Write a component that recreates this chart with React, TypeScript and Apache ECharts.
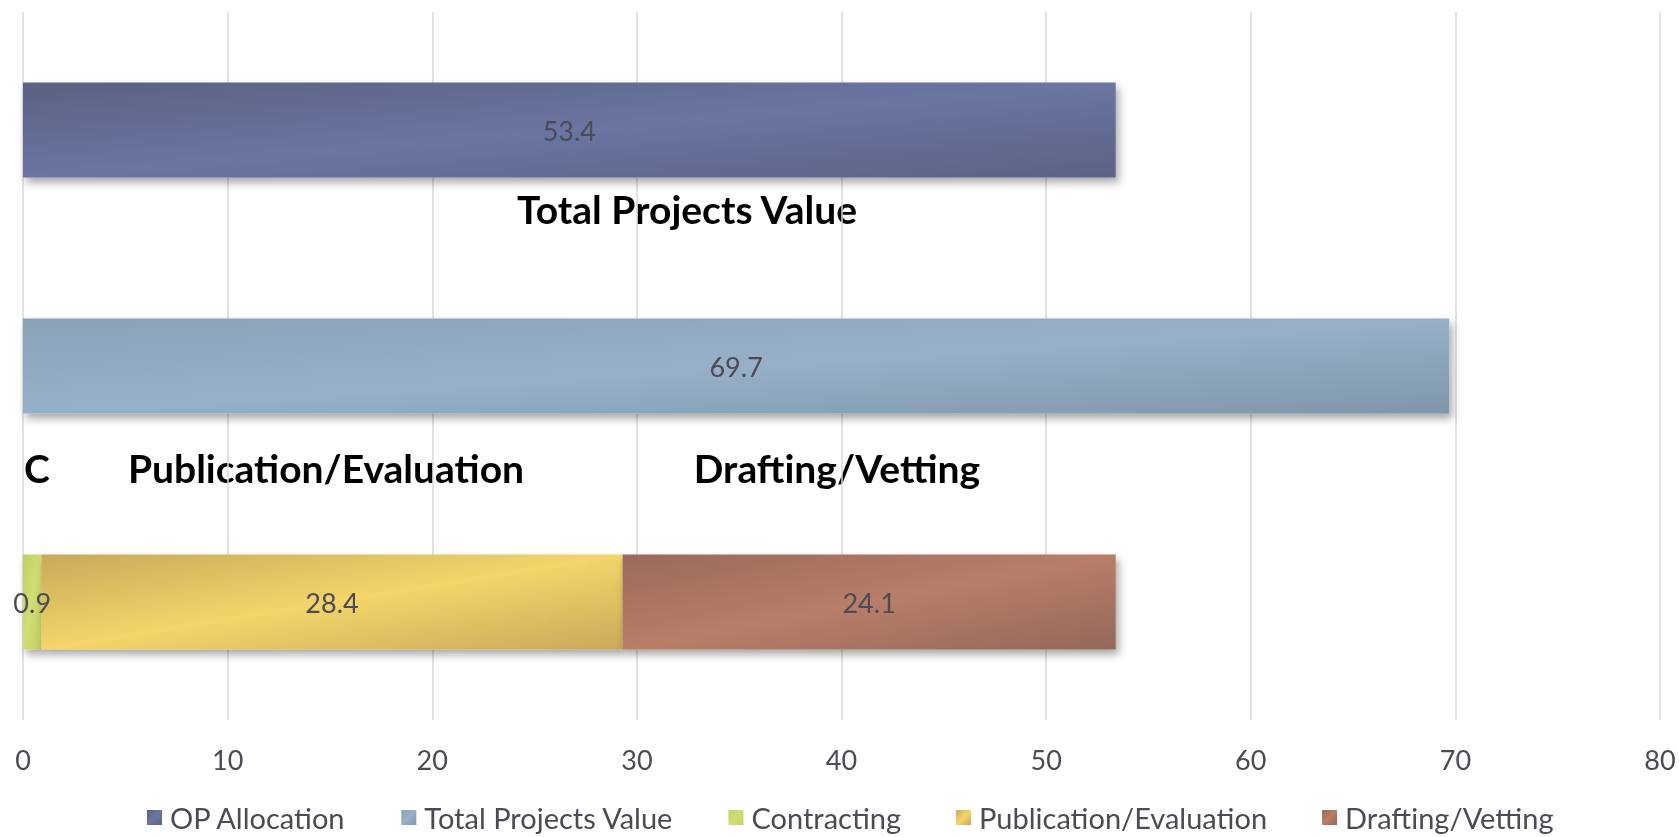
import React, { useEffect, useRef } from "react";
import * as echarts from "echarts";

const categories = ["OP Allocation", "Total Projects Value", "Stages"];
const seriesNames = ["OP Allocation", "Total Projects Value", "Contracting", "Publication/Evaluation", "Drafting/Vetting"];
const opAllocation = [53.4, null, null];
const totalProjectsValue = [null, 69.7, null];
const contracting = [null, null, 0.9];
const publicationEvaluation = [null, null, 28.4];
const draftingVetting = [null, null, 24.1];
const xTicks = { min: 0, max: 80, interval: 10 };

const grad = (a: string, b: string, c: string) =>
  new echarts.graphic.LinearGradient(0, 0, 1, 1, [
    { offset: 0, color: a },
    { offset: 0.5, color: b },
    { offset: 1, color: c },
  ]);

const colors = [
  grad("#5a6282", "#6a75a2", "#5a6384"),
  grad("#8aa2b8", "#97b0c8", "#7f96aa"),
  grad("#c2cf62", "#d2dc74", "#c2cf62"),
  grad("#c9a95a", "#f3d56a", "#c9a95a"),
  grad("#9a6a5a", "#b87e68", "#93685a"),
];

const FONT = "Lato, 'Open Sans', sans-serif";

export default function App() {
  const ref = useRef<HTMLDivElement>(null);
  useEffect(() => {
    document.body.style.margin = "0";
    const chart = echarts.init(ref.current!, null, { renderer: "svg" });
    const datas = [opAllocation, totalProjectsValue, contracting, publicationEvaluation, draftingVetting];
    chart.setOption({
      animation: false,
      textStyle: { fontFamily: FONT },
      grid: { left: 23, right: 19, top: 12, bottom: 117, containLabel: false },
      xAxis: {
        type: "value",
        min: xTicks.min,
        max: xTicks.max,
        interval: xTicks.interval,
        axisLine: { show: false },
        axisTick: { show: false },
        splitLine: { show: true, lineStyle: { color: "#d9d9d9", width: 1.5 } },
        axisLabel: { color: "#4b4b57", fontSize: 27, fontFamily: FONT, margin: 26 },
      },
      yAxis: {
        type: "category",
        data: categories,
        inverse: true,
        axisLine: { show: false },
        axisTick: { show: false },
        axisLabel: { show: false },
      },
      legend: {
        bottom: 0,
        left: 142,
        itemWidth: 15,
        itemHeight: 15,
        itemGap: 55,
        icon: "rect",
        textStyle: { color: "#4b4b57", fontSize: 29, fontFamily: FONT, padding: [0, 0, 0, 3] },
        data: seriesNames,
      },
      series: seriesNames.map((name, i) => ({
        name,
        type: "bar",
        stack: "all",
        barWidth: 95,
        data: datas[i],
        itemStyle: {
          color: colors[i],
          shadowColor: "rgba(0,0,0,0.35)",
          shadowBlur: 8,
          shadowOffsetX: 3,
          shadowOffsetY: 5,
        },
        label: {
          show: true,
          position: "inside",
          color: "#4b4b57",
          fontSize: 27,
          fontFamily: FONT,
          formatter: (p: any) => (p.value == null ? "" : String(p.value)),
        },
      })),
      graphic: [
        { type: "text", x: 687, y: 209, style: { text: "Total Projects Value", font: `bold 39px ${FONT}`, fill: "#000", align: "center", verticalAlign: "middle" } },
        { type: "text", x: 37, y: 468, style: { text: "C", font: `bold 39px ${FONT}`, fill: "#000", align: "center", verticalAlign: "middle" } },
        { type: "text", x: 326, y: 468, style: { text: "Publication/Evaluation", font: `bold 39px ${FONT}`, fill: "#000", align: "center", verticalAlign: "middle" } },
        { type: "text", x: 837, y: 468, style: { text: "Drafting/Vetting", font: `bold 39px ${FONT}`, fill: "#000", align: "center", verticalAlign: "middle" } },
      ],
    });
    return () => chart.dispose();
  }, []);
  return <div ref={ref} style={{ position: "fixed", left: 0, top: 0, width: 1679, height: 837 }} />;
}
